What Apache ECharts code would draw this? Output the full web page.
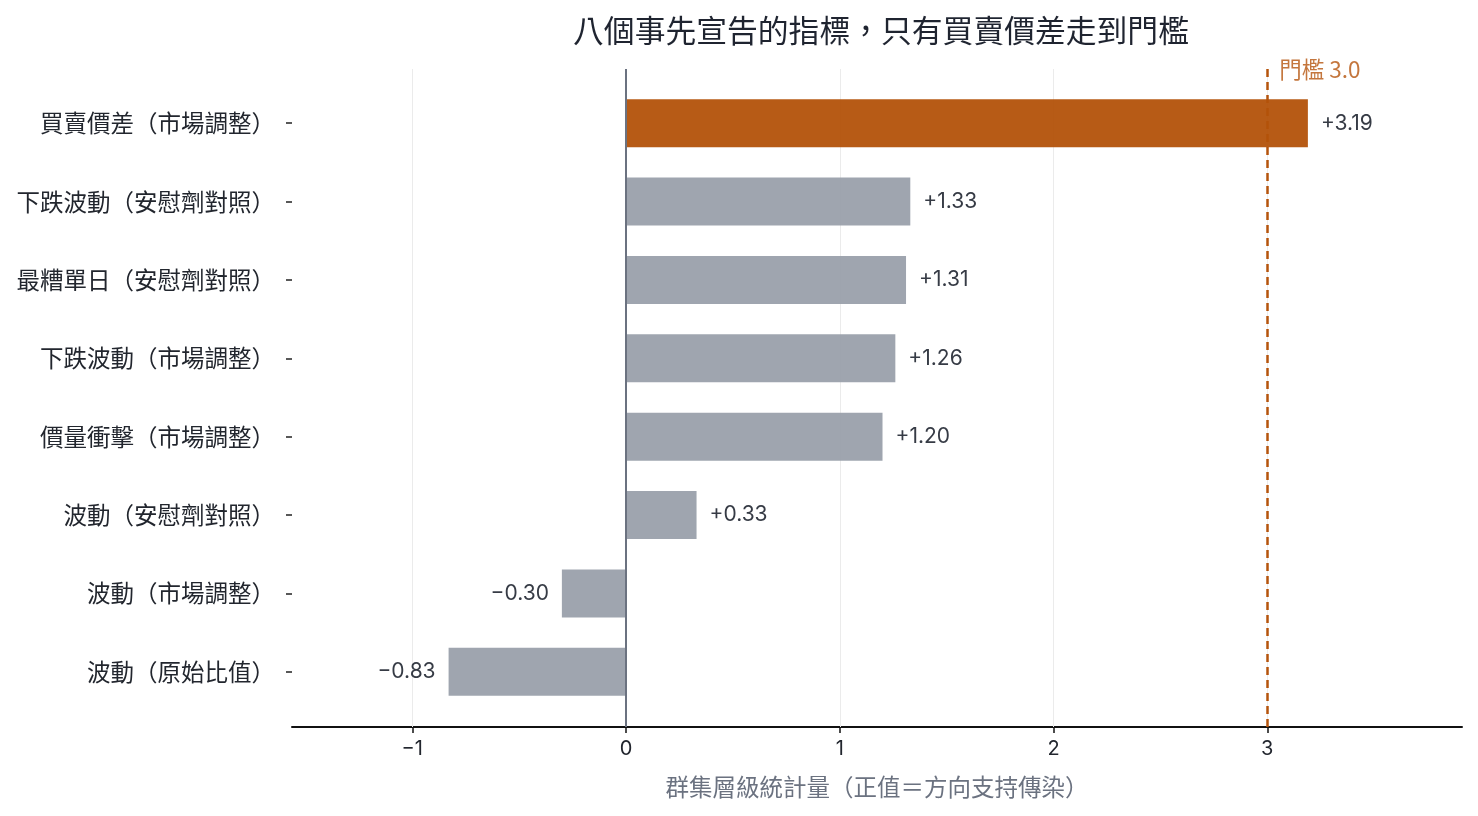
<!DOCTYPE html>
<html><head><meta charset="utf-8">
<script src="https://cdn.jsdelivr.net/npm/echarts@6/dist/echarts.min.js"></script>
<style>html,body{margin:0;padding:0;background:#fff}#c{width:1478px;height:816px}</style>
</head><body><div id="c"></div>
<script>
const categories = ['買賣價差（市場調整）','下跌波動（安慰劑對照）','最糟單日（安慰劑對照）','下跌波動（市場調整）','價量衝擊（市場調整）','波動（安慰劑對照）','波動（市場調整）','波動（原始比值）'];
const values = [3.19, 1.33, 1.31, 1.26, 1.20, 0.33, -0.30, -0.83];
const highlight = [true, false, false, false, false, false, false, false];
const xTicks = [-1, 0, 1, 2, 3];
const threshold = 3.0;
const titleText = '八個事先宣告的指標，只有買賣價差走到門檻';
const xName = '群集層級統計量（正值＝方向支持傳染）';
const thresholdLabel = '門檻 3.0';

const XMIN = -1.5626, XMAX = 3.911;
const CJK = "'Noto Sans CJK TC', sans-serif";
const NUM = "Inter, 'Noto Sans CJK TC', sans-serif";
const fmtSigned = v => (v >= 0 ? '+' : '\u2212') + Math.abs(v).toFixed(2);
const fmtTick = v => (v < 0 ? '\u2212' + Math.abs(v) : String(v));

const chart = echarts.init(document.getElementById('c'));
const barData = values.map((v, i) => ({
  value: v,
  itemStyle: { color: highlight[i] ? '#b3520a' : '#9aa0ab', opacity: 0.95 },
  label: { position: v >= 0 ? 'right' : 'left' }
}));
const backLines = xTicks.filter(t => t !== 0).map(t => ({ xAxis: t, lineStyle: { color: '#ebebeb', width: 1, type: 'solid' } }));
backLines.push({ xAxis: threshold, lineStyle: { color: '#b5540c', width: 2.5, type: [8, 5] } });
const frontLines = [{ xAxis: 0, lineStyle: { color: '#6b7280', width: 2, type: 'solid' } }];

chart.setOption({
  animation: false,
  title: { text: titleText, left: 876, textAlign: 'center', top: 10,
    textStyle: { fontFamily: CJK, fontSize: 30.8, fontWeight: 'normal', color: '#1f2430' } },
  grid: [
    { left: 292, right: 16, top: 84, bottom: 105 },
    { left: 292, right: 16, top: 69, bottom: 89 }
  ],
  xAxis: [
    { type: 'value', gridIndex: 0, min: XMIN, max: XMAX, show: false, splitLine: { show: false } },
    { type: 'value', gridIndex: 1, min: XMIN, max: XMAX,
      axisLine: { show: true, onZero: false, lineStyle: { color: '#111', width: 2 } },
      axisTick: { show: true, length: 6, customValues: xTicks, lineStyle: { color: '#111', width: 1.5 } },
      axisLabel: { customValues: xTicks, formatter: fmtTick, margin: 12, fontFamily: NUM, fontSize: 20, color: '#22262e' },
      splitLine: { show: false },
      name: xName, nameLocation: 'middle', nameGap: 48,
      nameTextStyle: { fontFamily: CJK, fontSize: 23.5, color: '#6b7280' } }
  ],
  yAxis: [
    { type: 'category', gridIndex: 0, data: categories, inverse: true,
      axisLine: { show: false, onZero: false },
      axisTick: { show: true, length: 6, alignWithLabel: true, lineStyle: { color: '#222', width: 1.5 } },
      axisLabel: { margin: 17, fontFamily: CJK, fontSize: 23.5, color: '#22262e' } },
    { type: 'value', gridIndex: 1, min: 0, max: 1, show: false }
  ],
  series: [
    { type: 'scatter', xAxisIndex: 1, yAxisIndex: 1, z: 1, symbolSize: 0,
      data: [[threshold, 1]],
      label: { show: true, position: 'right', distance: 12, formatter: thresholdLabel,
        fontFamily: CJK, fontSize: 22.5, color: '#b5540c' },
      markLine: { silent: true, z: 1, symbol: 'none', label: { show: false }, data: backLines } },
    { type: 'bar', xAxisIndex: 0, yAxisIndex: 0, z: 3, barWidth: 48, data: barData,
      label: { show: true, distance: 13, formatter: p => fmtSigned(p.value),
        fontFamily: NUM, fontSize: 21, color: '#2b303b' } },
    { type: 'scatter', xAxisIndex: 1, yAxisIndex: 1, z: 6, symbolSize: 0, data: [],
      markLine: { silent: true, z: 6, symbol: 'none', label: { show: false }, data: frontLines } }
  ]
});
</script></body></html>
